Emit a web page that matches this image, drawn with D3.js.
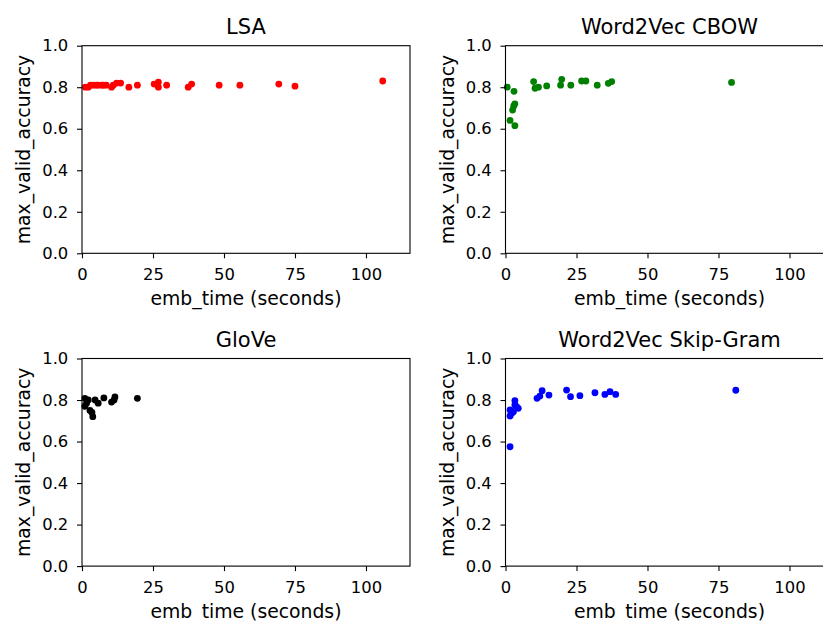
<!DOCTYPE html>
<html><head><meta charset="utf-8">
<script src="https://cdn.jsdelivr.net/npm/d3@7"></script>
<style>body{margin:0;background:#fff}svg{display:block}text{font-family:"DejaVu Sans",sans-serif}</style>
</head><body><svg id="c" width="823" height="621"></svg>
<script>
const titles = ["LSA", "Word2Vec CBOW", "GloVe", "Word2Vec Skip-Gram"];
const colors = ["red", "green", "black", "blue"];
const xTicks = [0, 25, 50, 75, 100];
const yTicks = [0.0, 0.2, 0.4, 0.6, 0.8, 1.0];
const xLabel = "emb_time (seconds)";
const yLabel = "max_valid_accuracy";

const lsaX = [1.2, 2.2, 3.0, 4.0, 5.0, 5.7, 7.0, 7.5, 8.5, 10.4, 11.0, 12.2, 13.6, 16.5, 19.5, 25.4, 26.9, 26.9, 29.8, 37.4, 38.6, 48.3, 55.6, 69.3, 75.0, 105.9];
const lsaY = [0.80, 0.80, 0.81, 0.81, 0.81, 0.81, 0.81, 0.81, 0.81, 0.80, 0.81, 0.82, 0.82, 0.80, 0.81, 0.815, 0.825, 0.80, 0.81, 0.80, 0.815, 0.81, 0.81, 0.815, 0.805, 0.83];

const cbowX = [0.6, 3.0, 2.9, 3.3, 2.5, 1.6, 3.3, 9.9, 10.4, 11.6, 14.5, 19.8, 19.4, 23.0, 26.8, 28.3, 32.3, 36.2, 37.4, 79.6];
const cbowY = [0.80, 0.78, 0.71, 0.72, 0.69, 0.64, 0.615, 0.827, 0.795, 0.80, 0.806, 0.838, 0.81, 0.81, 0.83, 0.83, 0.81, 0.819, 0.827, 0.823];

const gloveX = [1.0, 2.2, 1.6, 1.0, 2.8, 3.5, 3.8, 4.6, 5.7, 7.7, 10.4, 11.6, 11.3, 19.5];
const gloveY = [0.808, 0.80, 0.785, 0.77, 0.75, 0.74, 0.72, 0.80, 0.785, 0.81, 0.79, 0.815, 0.80, 0.808];

const skipX = [1.6, 3.3, 3.9, 4.5, 1.6, 2.2, 1.6, 2.8, 3.3, 11.1, 12.1, 12.9, 15.3, 21.5, 22.9, 26.2, 31.5, 35.0, 36.8, 38.8, 81.1];
const skipY = [0.575, 0.797, 0.768, 0.76, 0.752, 0.736, 0.723, 0.744, 0.776, 0.808, 0.819, 0.845, 0.824, 0.848, 0.816, 0.821, 0.835, 0.827, 0.84, 0.827, 0.847];

const series = [[lsaX, lsaY], [cbowX, cbowY], [gloveX, gloveY], [skipX, skipY]];

const svg = d3.select("#c");
const W = 328, H = 207.6;
const lefts = [82, 505.5];
const tops = [45.7, 358.5];
const TICK_FS = 16.4, LABEL_FS = 18.8, TITLE_FS = 21;

series.forEach((s, i) => {
  const left = lefts[i % 2], top = tops[Math.floor(i / 2)];
  const g = svg.append("g").attr("transform", `translate(${left},${top})`);
  const x = d3.scaleLinear().domain([0, 115.5]).range([0, W]);
  const y = d3.scaleLinear().domain([0, 1]).range([H, 0]);

  g.selectAll("circle").data(s[0].map((v, k) => [v, s[1][k]])).join("circle")
    .attr("cx", d => x(d[0])).attr("cy", d => y(d[1])).attr("r", 3.4)
    .attr("fill", colors[i]);

  g.append("rect").attr("width", W).attr("height", H)
    .attr("fill", "none").attr("stroke", "#000").attr("stroke-width", 1.1);

  const xa = g.append("g").attr("transform", `translate(0,${H})`)
    .call(d3.axisBottom(x).tickValues(xTicks).tickFormat(d3.format("d")).tickSize(5).tickPadding(10));
  const ya = g.append("g")
    .call(d3.axisLeft(y).tickValues(yTicks).tickFormat(d3.format(".1f")).tickSize(5).tickPadding(8.7));
  [xa, ya].forEach(a => {
    a.select(".domain").remove();
    a.selectAll("line").attr("stroke", "#000").attr("stroke-width", 1.1);
    a.selectAll("text").attr("font-size", TICK_FS).attr("fill", "#000").style("font-family", '"DejaVu Sans",sans-serif');
  });

  g.append("text").attr("x", W / 2).attr("y", -11.4).attr("text-anchor", "middle")
    .attr("font-size", TITLE_FS).text(titles[i]);
  g.append("text").attr("x", 164).attr("y", H + 52).attr("text-anchor", "middle")
    .attr("font-size", LABEL_FS).text(xLabel);
  g.append("text").attr("transform", `translate(-52,${H / 2}) rotate(-90)`)
    .attr("text-anchor", "middle").attr("font-size", LABEL_FS).text(yLabel);
});
</script></body></html>
